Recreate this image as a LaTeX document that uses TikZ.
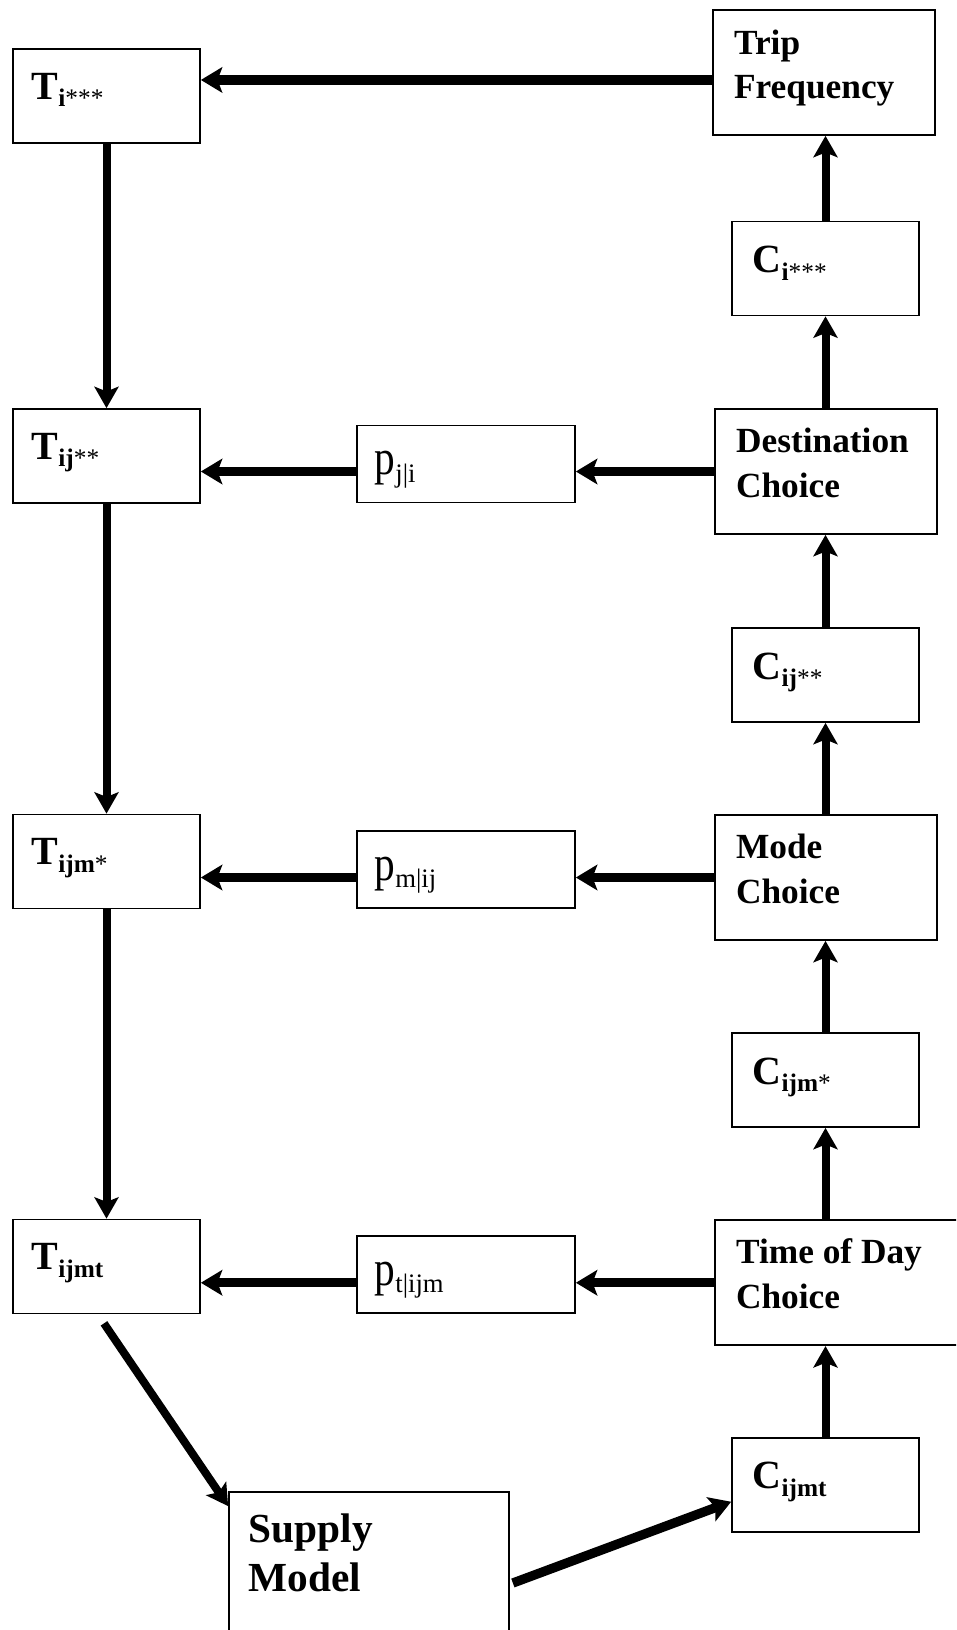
\documentclass[tikz,border=0pt]{standalone}
\usepackage{fontspec}
\usepackage{graphicx}
\setmainfont{Liberation Serif}
\usetikzlibrary{arrows.meta}

% flow quantities T, costs C, probabilities p
\newcommand{\varlab}[3]{{\fontsize{30pt}{30pt}\selectfont\bfseries #1}\raisebox{-5.8pt}{\fontsize{19pt}{19pt}\selectfont\bfseries #2\mdseries #3}}
\newcommand{\problab}[2]{{\fontsize{31pt}{31pt}\selectfont\scalebox{1}[1.2]{#1}}\raisebox{-5.8pt}{\fontsize{20pt}{20pt}\selectfont #2}}
\newcommand{\steplab}[3]{{\fontsize{#1}{#2}\selectfont\bfseries\begin{tabular}[t]{@{}l@{}}#3\end{tabular}}}

\tikzset{every picture/.style={line width=0.9pt}}
\tikzset{
  box/.style={draw, line width=1.3pt, inner sep=0pt},
  varbox/.style={box, minimum width=140.25pt, minimum height=70.5pt},
  probbox/.style={box, minimum width=163.5pt, minimum height=57.75pt},
  choicebox/.style={box, minimum width=166.5pt, minimum height=93.75pt},
  lbl/.style={anchor=base west, inner sep=0pt},
  flow/.style={line width=7pt, -{Stealth[length=16pt, width=19pt, inset=3.5pt]}},
  vflow/.style={line width=6pt, -{Stealth[length=16pt, width=18pt, inset=3.5pt]}},
}

\begin{document}
\begin{tikzpicture}[x=0.75pt, y=-0.75pt]
\useasboundingbox (0,0) rectangle (956,1630);
\clip (0,0) rectangle (956,1630);

% left column: trip tables
\node[varbox] (ti)    at (106.5,96)     {};
\node[varbox] (tij)   at (106.5,456)    {};
\node[varbox] (tijm)  at (106.5,861.5)  {};
\node[varbox] (tijmt) at (106.5,1266.5) {};
\node[lbl] (ti-t)    at ([xshift=14.25pt, yshift=-38.25pt]ti.north west)    {\varlab{T}{i}{***}};
\node[lbl] (tij-t)   at ([xshift=14.25pt, yshift=-38.25pt]tij.north west)   {\varlab{T}{ij}{**}};
\node[lbl] (tijm-t)  at ([xshift=14.25pt, yshift=-38.25pt]tijm.north west)  {\varlab{T}{ijm}{*}};
\node[lbl] (tijmt-t) at ([xshift=14.25pt, yshift=-38.25pt]tijmt.north west) {\varlab{T}{ijmt}{}};

% middle column: conditional probabilities
\node[probbox] (pji)   at (466,464)    {};
\node[probbox] (pmij)  at (466,869.5)  {};
\node[probbox] (ptijm) at (466,1274.5) {};
\node[lbl] (pji-t)   at ([xshift=13.5pt, yshift=-37.5pt]pji.north west)   {\problab{p}{j|i}};
\node[lbl] (pmij-t)  at ([xshift=13.5pt, yshift=-37.5pt]pmij.north west)  {\problab{p}{m|ij}};
\node[lbl] (ptijm-t) at ([xshift=13.5pt, yshift=-37.5pt]ptijm.north west) {\problab{p}{t|ijm}};

% right column: choice steps
\node[choicebox] (trip) at (824,72.5)  {};
\node[choicebox] (dest) at (826,471.5) {};
\node[choicebox] (mode) at (826,877.5) {};
\node[choicebox, minimum width=195pt] (tod) at (845,1282.75) {};
\node[lbl] (trip-t) at ([xshift=16pt, yshift=-33.75pt]trip.north west) {\steplab{26.5pt}{33.5pt}{Trip\\Frequency}};
\node[lbl] (dest-t) at ([xshift=16pt, yshift=-33.4pt]dest.north west) {\steplab{26.5pt}{33.5pt}{Destination\\Choice}};
\node[lbl] (mode-t) at ([xshift=16pt, yshift=-33.4pt]mode.north west) {\steplab{26.5pt}{33.5pt}{Mode\\Choice}};
\node[lbl] (tod-t)  at ([xshift=16pt, yshift=-33.4pt]tod.north west)  {\steplab{26.5pt}{33.5pt}{Time of Day\\Choice}};

% right column: composite costs
\node[varbox] (ci)    at (825.5,268.5)   {};
\node[varbox] (cij)   at (825.5,675)     {};
\node[varbox] (cijm)  at (825.5,1080)    {};
\node[varbox] (cijmt) at (825.5,1484.75) {};
\node[lbl] (ci-t)    at ([xshift=15.75pt, yshift=-39pt]ci.north west)    {\varlab{C}{i}{***}};
\node[lbl] (cij-t)   at ([xshift=15.75pt, yshift=-39pt]cij.north west)   {\varlab{C}{ij}{**}};
\node[lbl] (cijm-t)  at ([xshift=15.75pt, yshift=-39pt]cijm.north west)  {\varlab{C}{ijm}{*}};
\node[lbl] (cijmt-t) at ([xshift=15.75pt, yshift=-39pt]cijmt.north west) {\varlab{C}{ijmt}{}};

% supply side
\node[box, minimum width=210pt, minimum height=150pt] (supply) at (369,1592) {};
\node[lbl] (supply-t) at ([xshift=15pt, yshift=-38.25pt]supply.north west) {\steplab{31pt}{36.75pt}{Supply\\Model}};

% horizontal flows
\coordinate (tf-out) at ([yshift=-5.6pt]trip.west);
\draw[flow] (tf-out) -- (tf-out -| ti.east);
\draw[flow] (dest.west) -- (dest.west -| pji.east);
\draw[flow] (dest.west -| pji.west) -- (dest.west -| tij.east);
\draw[flow] (mode.west) -- (mode.west -| pmij.east);
\draw[flow] (mode.west -| pmij.west) -- (mode.west -| tijm.east);
\draw[flow] (tod.west) -- (tod.west -| ptijm.east);
\draw[flow] (tod.west -| ptijm.west) -- (tod.west -| tijmt.east);

% down the left
\draw[vflow] (ti.south) -- (tij.north);
\draw[vflow] (tij.south) -- (tijm.north);
\draw[vflow] (tijm.south) -- (tijmt.north);

% up the right
\draw[vflow] (ci.north) -- (ci.north |- trip.south);
\draw[vflow] (ci.south |- dest.north) -- (ci.south);
\draw[vflow] (cij.north) -- (cij.north |- dest.south);
\draw[vflow] (cij.south |- mode.north) -- (cij.south);
\draw[vflow] (cijm.north) -- (cijm.north |- mode.south);
\draw[vflow] (cijm.south |- tod.north) -- (cijm.south);
\draw[vflow] (cijmt.north) -- (cijmt.north |- tod.south);

% through the supply model
\coordinate (tr-out) at ([xshift=-1.9pt, yshift=-6.75pt]tijmt.south);
\coordinate (sm-in) at ([yshift=-11.25pt]supply.north west);
\draw[vflow] (tr-out) -- (sm-in);
\coordinate (sm-out) at ([xshift=2.25pt, yshift=6.75pt]supply.east);
\coordinate (cm-in) at ([yshift=-12.75pt]cijmt.west);
\draw[flow] (sm-out) -- (cm-in);

\end{tikzpicture}
\end{document}
